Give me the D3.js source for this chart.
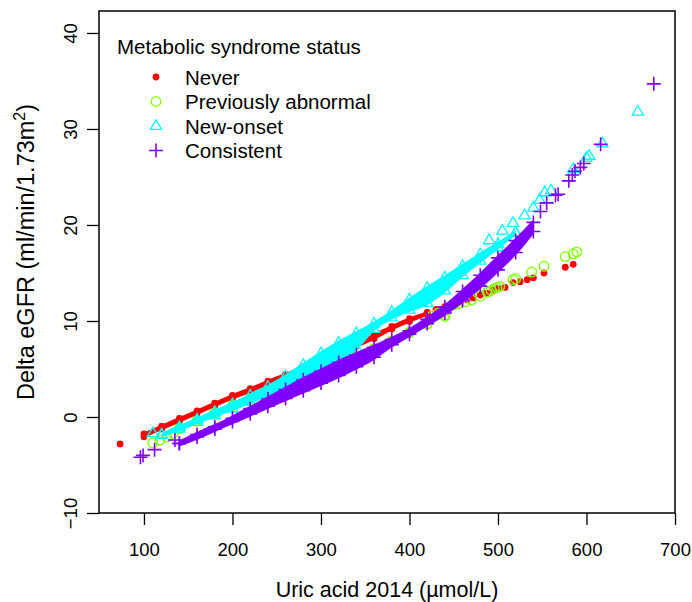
<!DOCTYPE html>
<html><head><meta charset="utf-8">
<script src="https://cdn.jsdelivr.net/npm/d3@7/dist/d3.min.js"></script>
<style>body{margin:0;background:#fff}svg{display:block}text{font-family:"Liberation Sans",Arial,sans-serif;fill:#000}</style>
</head><body><svg id="c" width="692" height="602"></svg>
<script>
const xTicks = [100, 200, 300, 400, 500, 600, 700];
const yTicks = [-10, 0, 10, 20, 30, 40];
const groups = ["Never", "Previously abnormal", "New-onset", "Consistent"];
const colors = ["#FF0000", "#80FF00", "#00FFFF", "#8000FF"];

// dense bands: uric acid, upper and lower edge of the band of fitted values
const neverX  = [100,120,140,160,180,200,220,240,260,280,300,320,340,360,380,400,420];
const neverHi = [-1.4,-0.6,0.2,1.0,1.8,2.6,3.3,4.1,4.8,5.6,6.4,7.2,8.0,8.9,9.8,10.6,11.2];
const neverLo = [-2.4,-1.6,-0.8,0.0,0.8,1.6,2.3,3.1,3.8,4.6,5.4,6.2,7.0,7.8,8.8,9.6,10.3];

const abnX  = [140,160,180,200,220,240,260,280,300,320,340,360,380,400,420,440];
const abnHi = [-0.7,0.1,0.9,1.7,2.4,3.2,3.9,4.7,5.4,6.1,6.8,7.6,8.4,9.3,10.2,11.0];
const abnLo = [-1.7,-0.9,-0.1,0.7,1.4,2.2,2.9,3.7,4.4,5.1,5.8,6.6,7.4,8.3,9.2,10.1];

const newX  = [120,140,160,180,200,220,240,260,280,300,320,340,360,380,400,420,440,460,480,500,520];
const newHi = [-1.3,-0.5,0.3,1.1,1.9,2.8,3.7,4.8,6.0,7.2,8.3,9.3,10.3,11.5,12.8,14.0,15.1,16.3,17.5,18.6,19.8];
const newLo = [-2.4,-1.8,-1.1,-0.4,0.3,1.0,1.8,2.7,3.6,4.5,5.5,6.6,8.6,9.8,10.6,11.3,12.6,14.2,15.7,17.1,18.6];

const consX  = [140,160,180,200,220,240,260,280,300,320,340,360,380,400,420,440,460,480,500,520,540];
const consHi = [-2.0,-1.1,-0.3,0.6,1.6,2.6,3.6,4.6,5.5,6.4,7.2,8.0,8.8,9.7,10.9,12.2,13.8,15.5,17.3,19.1,21.0];
const consLo = [-3.5,-2.8,-2.0,-1.2,-0.4,0.4,1.2,2.0,2.8,3.6,4.5,5.5,6.8,7.9,9.0,10.1,11.4,12.9,14.6,16.4,18.6];

// sparse individual points at the ends of each band
const neverPtX = [73,420,430,440,450,457,465,472,480,487,494,500,508,517,525,533,540,552,576,585];
const neverPtY = [-2.8,10.9,11.2,11.5,11.8,12.0,12.2,12.4,12.7,12.9,13.2,13.4,13.5,14.0,14.1,14.3,14.5,15.0,15.6,15.9];
const abnPtX = [110,118,126,133,425,432,442,451,455,463,470,480,488,492,496,499,502,517,520,538,552,576,585,589];
const abnPtY = [-2.7,-2.4,-2.1,-1.7,10.5,10.8,11.1,11.7,11.8,12.0,12.2,12.6,13.0,13.2,13.4,13.5,13.6,14.3,14.4,15.1,15.7,16.7,17.0,17.2];
const newPtX = [110,490,505,517,530,540,547,553,560,585,600,603,618,658];
const newPtY = [-1.7,18.4,19.4,20.2,21.0,21.8,22.6,23.4,23.6,25.8,27.0,27.2,28.5,31.8];
const consPtX = [96,99,112,135,548,555,565,568,580,584,587,593,597,616,676];
const consPtY = [-4.2,-4.0,-3.4,-2.4,21.4,22.3,23.1,23.2,24.6,25.2,25.6,26.0,26.4,28.4,34.7];

const svg = d3.select("#c");
const x = d3.scaleLinear().domain([49.2, 700]).range([99, 675]);
const y = d3.scaleLinear().domain([-10, 42.29]).range([513, 11]);

const bands = [
  {X: neverX, Hi: neverHi, Lo: neverLo, PX: neverPtX, PY: neverPtY},
  {X: abnX, Hi: abnHi, Lo: abnLo, PX: abnPtX, PY: abnPtY},
  {X: newX, Hi: newHi, Lo: newLo, PX: newPtX, PY: newPtY},
  {X: consX, Hi: consHi, Lo: consLo, PX: consPtX, PY: consPtY}
];
const half = [3.4, 5, 5.5, 7];

function marker(g, type, cx, cy) {
  const col = colors[type];
  if (type === 0) {
    g.append("circle").attr("cx", cx).attr("cy", cy).attr("r", 3.4).attr("fill", col);
  } else if (type === 1) {
    g.append("circle").attr("cx", cx).attr("cy", cy).attr("r", 4.8).attr("fill", "none").attr("stroke", col).attr("stroke-width", 1.3);
  } else if (type === 2) {
    g.append("path").attr("d", `M${cx},${cy-6.2}L${cx+5.6},${cy+3.4}L${cx-5.6},${cy+3.4}Z`).attr("fill", "none").attr("stroke", col).attr("stroke-width", 1.3);
  } else {
    g.append("path").attr("d", `M${cx-7},${cy}H${cx+7}M${cx},${cy-7}V${cy+7}`).attr("stroke", col).attr("stroke-width", 1.6);
  }
}

const plot = svg.append("g");
bands.forEach((b, i) => {
  const g = plot.append("g");
  const pts = b.X.map((v, k) => ({x: v, hi: b.Hi[k], lo: b.Lo[k]}));
  const h = half[i];
  g.append("path").datum(pts)
    .attr("d", d3.area().curve(d3.curveMonotoneX)
      .x(d => x(d.x)).y0(d => y(d.lo) - h * 0.6).y1(d => y(d.hi) + h * 0.6))
    .attr("fill", colors[i]);
  pts.forEach(d => {
    marker(g, i, x(d.x), y(d.hi) + h);
    marker(g, i, x(d.x), y(d.lo) - h);
  });
  b.PX.forEach((v, k) => marker(g, i, x(v), y(b.PY[k])));
});

// box
svg.append("rect").attr("x", 99).attr("y", 11).attr("width", 576).attr("height", 502)
  .attr("fill", "none").attr("stroke", "#000").attr("stroke-width", 1.5);

// x axis
const xa = svg.append("g").attr("transform", "translate(0,513)")
  .call(d3.axisBottom(x).tickValues(xTicks).tickSize(12).tickSizeOuter(0).tickPadding(18).tickFormat(d3.format("d")));
xa.select(".domain").remove();
xa.selectAll(".tick line").attr("stroke", "#000").attr("stroke-width", 1.3);
xa.selectAll(".tick text").attr("font-size", 18.5).attr("font-family", "Liberation Sans, Arial, sans-serif");

// y axis
const ya = svg.append("g").attr("transform", "translate(99,0)")
  .call(d3.axisLeft(y).tickValues(yTicks).tickSize(12).tickSizeOuter(0).tickFormat(d3.format("d")));
ya.select(".domain").remove();
ya.selectAll(".tick line").attr("stroke", "#000").attr("stroke-width", 1.3);
ya.selectAll(".tick text")
  .attr("x", null).attr("dy", null)
  .attr("text-anchor", "middle")
  .attr("transform", "translate(-22,0) rotate(-90)")
  .attr("font-size", 18.5).attr("font-family", "Liberation Sans, Arial, sans-serif");

// axis titles
svg.append("text").attr("x", 387).attr("y", 597).attr("text-anchor", "middle").attr("font-size", 21.5)
  .text("Uric acid 2014 (\u00b5mol/L)");
const yt = svg.append("text").attr("transform", "translate(34,252) rotate(-90)").attr("text-anchor", "middle").attr("font-size", 23.5);
yt.append("tspan").text("Delta eGFR (ml/min/1.73m");
yt.append("tspan").attr("dy", -9).attr("font-size", 16).text("2");
yt.append("tspan").attr("dy", 9).text(")");

// legend
const lg = svg.append("g");
lg.append("text").attr("x", 117).attr("y", 54).attr("font-size", 20.5).text("Metabolic syndrome status");
const rows = [77, 101.5, 126, 150.5];
groups.forEach((name, i) => {
  marker(lg, i, 156, rows[i]);
  lg.append("text").attr("x", 185).attr("y", rows[i] + 7.5).attr("font-size", 20.5).text(name);
});
</script></body></html>
